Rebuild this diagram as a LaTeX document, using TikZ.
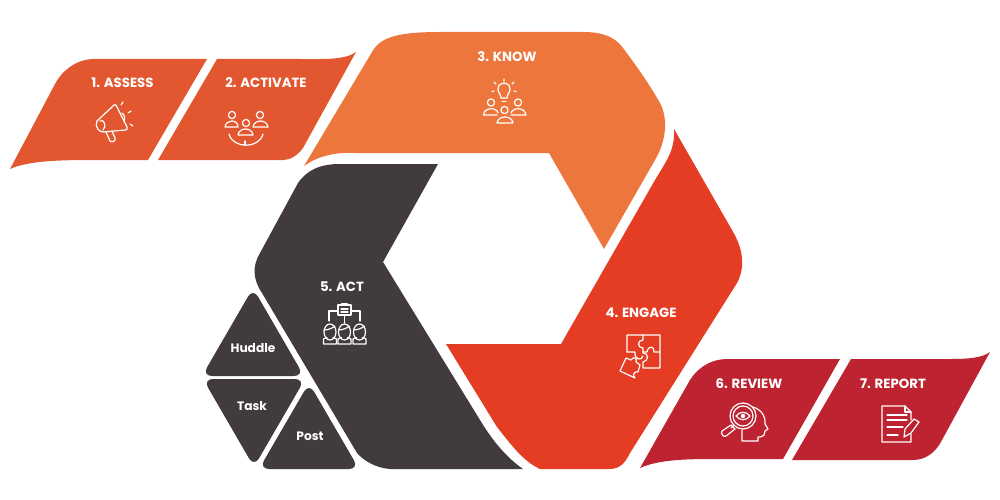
\documentclass[tikz,border=0pt]{standalone}
\usepackage{fontspec}
\setmainfont{Poppins}
\definecolor{cAssess}{HTML}{E2572F}
\definecolor{cKnow}{HTML}{EC763C}
\definecolor{cEngage}{HTML}{E43D24}
\definecolor{cAct}{HTML}{413A3E}
\definecolor{cReview}{HTML}{BE2331}
\tikzset{
  title/.style={text=white,font=\fontsize{13.3}{15}\selectfont\bfseries,inner sep=0pt},
  sub/.style={text=white,font=\fontsize{12.2}{14}\selectfont\bfseries,inner sep=0pt},
  icon/.style={draw=white,line width=1.2pt,line cap=round,line join=round,fill=none},
  tri/.style={fill=cAct,rounded corners=10pt}
}
\begin{document}
\begin{tikzpicture}[x=1pt,y=-1pt]
\useasboundingbox (0,0) rectangle (1000,500);
% bands
\fill[cAssess] (10,169) -- (55,84) .. controls (63,69) and (78,59) .. (94,59) -- (207,59) -- (148,160) -- (100,160) .. controls (65,160) and (30,160) .. cycle;
\fill[cAssess] (217,59) -- (300,59) .. controls (325,59) and (345,60) .. (356,52) -- (303,148) .. controls (297,156) and (290,160) .. (283,160) -- (158,160) -- cycle;
\fill[cKnow] (304,166) -- (372,52) .. controls (380,38) and (395,32) .. (440,32) -- (583,32) .. controls (603,32) and (615,37) .. (623,48) .. controls (635,64) and (648,82) .. (660,103) .. controls (667,116) and (668,138) .. (655,160) -- (604,249) -- (549,153) -- (355,153) .. controls (335,152) and (318,156) .. cycle;
\fill[cEngage] (674,129) -- (732,230) .. controls (744,250) and (745,268) .. (737,283) -- (630,453) .. controls (625,463) and (620,469) .. (609,469) -- (540,469) .. controls (525,462) and (515,450) .. (497,427) -- (446,344) -- (561,344) -- (655,180) .. controls (667,160) and (675,150) .. cycle;
\fill[cAct] (438,164) -- (340,164) .. controls (320,164) and (307,170) .. (298,183) -- (260,253) .. controls (252,266) and (253,280) .. (262,293) -- (357,453) .. controls (365,462) and (377,468) .. (390,469) -- (523,469) .. controls (510,460) and (495,445) .. (480,420) -- (383,262) -- cycle;
\fill[cReview] (640,468) -- (690,380) .. controls (698,367) and (712,359) .. (727,359) -- (840,359) -- (783,459) -- (720,459) .. controls (690,459) and (660,459) .. cycle;
\fill[cReview] (851,359) -- (950,359) .. controls (968,359) and (982,358) .. (990,352) -- (942,440) .. controls (936,452) and (926,460) .. (913,460) -- (792,460) -- cycle;
% triangles
\fill[tri] (202,376) -- (253,288) -- (304,376) -- cycle;
\fill[tri] (203,379) -- (305,379) -- (254,467) -- cycle;
\fill[tri] (259,469) -- (309,383) -- (359,469) -- cycle;
% labels
\node[title] (t1) at (122.5,83) {1. ASSESS};
\node[title] (t2) at (266,83) {2. ACTIVATE};
\node[title] (t3) at (507,57) {3. KNOW};
\node[title] (t4) at (641,313) {4. ENGAGE};
\node[title] (t5) at (342,287) {5. ACT};
\node[title] (t6) at (749,384) {6. REVIEW};
\node[title] (t7) at (893,384) {7. REPORT};
\node[sub] (s1) at (253,348) {Huddle};
\node[sub] (s2) at (252,406) {Task};
\node[sub] (s3) at (310,436) {Post};
% megaphone
\draw[icon] (97,121) -- (112,107) .. controls (114,104) and (116,104) .. (117,107) -- (127,127) .. controls (128,129) and (127,130) .. (125,130) -- (104,132) .. controls (100,133) and (94,127) .. (97,121) -- cycle;
\draw[icon] (100,121) .. controls (104,118) and (107,127) .. (103,130);
\draw[icon] (106,132) -- (110,141) .. controls (112,143) and (116,141) .. (115,138) -- (112,131);
\draw[icon] (122,113) .. controls (125,115) and (125,119) .. (124,121);
\draw[icon] (121,105) -- (123,102) (128,113) -- (131,111) (130,124) -- (133,126);
% activate icon
\draw[icon] (232,115) circle (3.6) (260,115) circle (3.6) (246,123) circle (3.6);
\draw[icon] (225,127) .. controls (226,119) and (238,119) .. (238,127) -- cycle;
\draw[icon] (253,127) .. controls (254,119) and (267,119) .. (268,127) -- cycle;
\draw[icon] (238,135) .. controls (239,127) and (252,127) .. (253,135) -- cycle;
\draw[icon] (229,134) .. controls (233,149) and (259,149) .. (263,134);
\draw[icon] (245,141) -- (245,145);
% know icon
\draw[icon] (501,98) .. controls (501,94) and (498,93) .. (498,89) .. controls (498,81) and (510,81) .. (510,89) .. controls (510,93) and (507,94) .. (507,98) -- cycle;
\draw[icon] (502,101.5) -- (506,101.5);
\draw[icon] (504,81) -- (504,79) (496,84) -- (494,82) (512,84) -- (514,82) (494,91) -- (492,91.5) (514,91) -- (516,91.5);
\draw[icon] (491,102.5) circle (3.6) (518,102.5) circle (3.6) (504.5,110) circle (3.6);
\draw[icon] (483.5,115) .. controls (484,107) and (497,107) .. (498,113) (483.5,115) -- (497,115);
\draw[icon] (511,115) -- (526,115) .. controls (525,107) and (513,107) .. (511,113);
\draw[icon] (497,123) .. controls (498,115) and (512,115) .. (513,123) -- cycle;
% engage icon
\draw[icon] (627,352) -- (627,335) -- (660,335) -- (660,368) -- (643,368) -- (643,362) .. controls (649,361) and (649,353) .. (643,353) -- (643,352);
\draw[icon] (627,352) -- (635,352) .. controls (634,360) and (642,361) .. (643,356);
\draw[icon] (643,335) -- (643,340) .. controls (637,340) and (637,348) .. (643,348) -- (643,352) -- (647,352) .. controls (648,345) and (655,346) .. (654,352) -- (660,352);
\draw[icon] (626,358) -- (631,360) .. controls (633,356) and (638,358) .. (636,362) -- (640,365) -- (638,372) .. controls (634,371) and (632,375) .. (635,378) -- (620,371) -- cycle;
% act icon
\draw[icon] (338,305) rectangle (351,315);
\draw[icon] (342,305) -- (342,303.5) -- (347,303.5) -- (347,305);
\draw[icon] (341,309) -- (348,309) (341,312) -- (348,312);
\draw[icon] (338,311) -- (329,311) -- (329,321) (351,311) -- (360,311) -- (360,321) (344.5,315) -- (344.5,323);
\foreach \cx in {330,344.5,359.5}{
  \draw[icon] (\cx,332) ellipse (6 and 8);
  \draw[icon] (\cx-6,330) .. controls (\cx-2,330) and (\cx+3,328) .. (\cx+5,326);
  \draw[icon] (\cx-6.5,344) -- (\cx-6.5,339) -- (\cx-3,337.5) (\cx+6.5,344) -- (\cx+6.5,339) -- (\cx+3,337.5) (\cx-6.5,344) -- (\cx+6.5,344);
}
% review icon
\draw[icon] (743,416) circle (13) (743,416) circle (10);
\draw[icon] (736,416) .. controls (740,411) and (746,411) .. (750,416) .. controls (746,421) and (740,421) .. (736,416) -- cycle;
\fill[white] (743,416) circle (2.2);
\draw[icon] (734,425) -- (731,428);
\draw[icon] (731,425) -- (722,431) .. controls (720,433) and (724,438) .. (726,436) -- (735,429) -- cycle;
\draw[icon] (753,407) .. controls (762,410) and (766,417) .. (765,424) -- (768,429) -- (765,431) -- (764,435) .. controls (763,437) and (760,437) .. (758,437) -- (758,441) -- (742,441) -- (742,430);
% report icon
\draw[icon] (911,420) -- (911,412) -- (905,406) -- (882,406) -- (882,442) -- (911,442) -- (911,434);
\draw[icon] (905,406) -- (905,412) -- (911,412);
\draw[icon] (887,415) -- (907,415) (887,420) -- (907,420) (887,427) -- (903,427) (887,435) -- (898,435);
\draw[icon] (904,437) -- (905,429) -- (914,419) -- (919,422) -- (911,433) -- cycle;
\end{tikzpicture}
\end{document}
